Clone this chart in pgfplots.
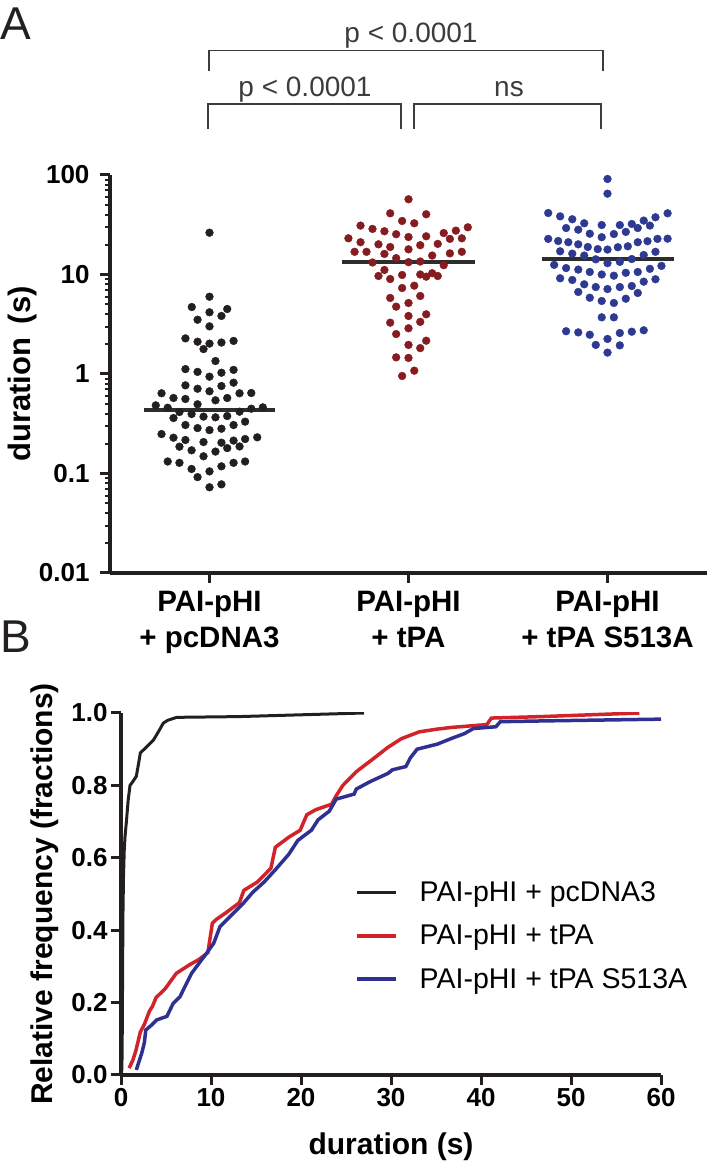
\documentclass[border=0pt]{standalone}
\usepackage{fontspec}
\setmainfont{Liberation Sans}
\usepackage{pgfplots}
\pgfplotsset{compat=1.18}
\definecolor{axisc}{RGB}{35,31,32}
\definecolor{dotblack}{RGB}{35,31,32}
\definecolor{dotred}{RGB}{135,28,32}
\definecolor{dotblue}{RGB}{46,58,145}
\definecolor{meanc}{RGB}{45,45,45}
\definecolor{brk}{RGB}{60,60,60}
\definecolor{linered}{RGB}{210,35,42}
\definecolor{lineblue}{RGB}{46,49,146}
\begin{document}
\begin{tikzpicture}[x=1pt,y=1pt]
\useasboundingbox (0,0) rectangle (709,1161);
% ---------------- Panel A ----------------
\begin{axis}[
  at={(110pt,588pt)}, anchor=south west,
  scale only axis, width=597pt, height=398pt,
  xmin=-0.5, xmax=2.5, ymode=log, ymin=0.01, ymax=100,
  axis x line=bottom, axis y line=left,
  axis line style={-, line width=3.5pt, draw=axisc},
  tick align=outside,
  major tick length=10pt, minor tick length=5pt,
  every tick/.style={axisc, line width=3pt},
  minor tick style={line width=2pt},
  xtick={0,1,2},
  xticklabels={{PAI-pHI\\+ pcDNA3},{PAI-pHI\\+ tPA},{PAI-pHI\\+ tPA S513A}},
  xticklabel style={align=center, font=\fontsize{29.5}{36}\selectfont\bfseries, yshift=-5pt},
  ytick={0.01,0.1,1,10,100},
  yticklabels={0.01,0.1,1,10,100},
  minor ytick={0.02,0.03,0.04,0.05,0.06,0.07,0.08,0.09,0.2,0.3,0.4,0.5,0.6,0.7,0.8,0.9,2,3,4,5,6,7,8,9,20,30,40,50,60,70,80,90},
  yticklabel style={font=\fontsize{26}{30}\selectfont\bfseries, xshift=-7pt},
  ylabel={duration \,(s)},
  ylabel style={font=\fontsize{31}{36}\selectfont\bfseries, at={(axis description cs:-0.146,0.5)}, anchor=center},
]
\addplot[only marks, mark=*, mark size=3.9pt, color=dotblack, mark options={fill=dotblack, draw=none}] table {
x y
0 26.3
0 5.98
-0.089 4.71
0.089 4.50
0 4.17
-0.060 3.51
0.060 3.83
0 3.01
-0.121 2.28
-0.060 2.11
0 2.02
0.060 2.07
0.121 2.15
-0.030 1.78
0.030 1.35
-0.121 1.12
-0.060 1.05
0 0.94
0.060 1.03
0.121 1.10
-0.121 0.769
-0.060 0.711
0 0.670
0.060 0.757
0.121 0.818
-0.241 0.640
-0.181 0.574
-0.121 0.561
0.030 0.544
0.089 0.574
0.151 0.640
0.210 0.644
-0.270 0.484
-0.210 0.458
-0.060 0.496
0.210 0.448
0.268 0.462
-0.151 0.415
-0.090 0.396
-0.030 0.373
0.030 0.367
0.089 0.378
0.151 0.418
-0.181 0.361
0.179 0.332
-0.121 0.307
-0.060 0.286
0 0.273
0.060 0.282
0.121 0.307
-0.241 0.249
-0.181 0.229
-0.121 0.217
-0.030 0.207
0.060 0.204
0.121 0.214
0.179 0.222
0.240 0.231
-0.151 0.186
-0.090 0.171
0.030 0.166
0.089 0.180
0.151 0.187
-0.030 0.149
-0.210 0.132
-0.151 0.128
-0.090 0.111
0 0.105
0.060 0.118
0.121 0.128
0.179 0.132
-0.060 0.092
0 0.0727
0.060 0.0778
};
\addplot[only marks, mark=*, mark size=3.9pt, color=dotred, mark options={fill=dotred, draw=none}] table {
x y
1 57.0
0.908 41.2
1.089 40.3
0.968 34.5
1.029 32.7
0.759 31.0
0.819 28.7
0.879 27.2
0.938 25.4
1 23.8
1.089 24.2
1.177 26.1
1.238 27.6
1.298 29.8
0.698 23.1
0.759 21.1
0.849 20.1
0.908 18.9
1 17.9
1.059 19.7
1.147 20.3
1.208 22.8
1.268 23.1
0.729 16.9
0.789 16.9
0.879 16.1
0.938 14.6
1.119 15.5
1.208 16.3
1.268 16.9
0.819 13.2
1 13.3
1.059 13.5
1.177 12.4
0.879 11.1
0.849 9.66
0.908 9.01
0.968 9.89
1.059 10.0
1.089 9.51
1.119 10.3
1.147 9.66
0.968 7.31
1.029 7.72
0.908 5.81
1.059 6.08
0.938 4.75
1 5.17
1 3.83
1.089 3.98
0.908 3.28
1.059 3.34
1 2.88
0.938 2.52
1 1.96
1.089 2.16
1.059 1.82
0.938 1.47
1 1.45
1.029 1.08
0.968 0.955
};
\addplot[only marks, mark=*, mark size=3.9pt, color=dotblue, mark options={fill=dotblue, draw=none}] table {
x y
2 91.2
2 64.9
1.702 41.5
1.762 38.4
1.823 35.9
1.883 32.7
1.971 31.4
2.062 31.4
2.122 32.2
2.182 34.8
2.241 37.6
2.302 41.2
1.792 29.3
1.853 28.2
2.152 29.3
2.213 31.0
1.911 25.7
2.032 25.5
2.092 26.8
1.971 23.7
1.702 22.8
1.752 21.7
1.803 21.1
1.853 20.1
1.901 18.9
1.951 18.0
2 17.8
2.052 18.8
2.102 19.2
2.152 21.1
2.201 21.6
2.251 22.8
2.302 22.9
1.762 17.1
1.823 16.2
1.883 15.5
2.182 15.7
2.241 16.9
1.941 14.2
2 13.0
2.062 13.4
2.122 14.3
1.732 12.5
1.792 11.6
1.853 11.2
1.911 10.6
1.971 10.0
2.032 9.73
2.092 10.4
2.152 10.6
2.213 11.4
2.271 12.2
1.762 9.16
1.823 8.81
1.883 7.97
1.941 7.48
2 7.14
2.062 7.48
2.122 7.66
2.182 8.47
2.241 8.96
1.853 6.67
1.911 5.84
1.971 5.42
2.032 5.17
2.092 5.71
2.152 6.52
1.971 3.71
2.032 3.71
1.792 2.69
1.853 2.62
1.911 2.48
2.062 2.58
2.122 2.66
2.182 2.75
2 2.25
1.941 1.96
2.062 1.94
2 1.64
};
\addplot[meanc, line width=4pt] coordinates {(-0.33,0.435) (0.33,0.435)};
\addplot[meanc, line width=4pt] coordinates {(0.667,13.4) (1.332,13.4)};
\addplot[meanc, line width=4pt] coordinates {(1.67,14.2) (2.333,14.2)};
\end{axis}
% significance brackets
\draw[brk, line width=1.5pt] (209,1090.3) -- (209,1110.3) -- (603,1110.3) -- (603,1090.3);
\draw[brk, line width=1.5pt] (208,1032) -- (208,1057) -- (401,1057) -- (401,1032);
\draw[brk, line width=1.5pt] (414,1032) -- (414,1057) -- (601,1057) -- (601,1032);
\node[anchor=base, inner sep=0pt, font=\fontsize{28}{32}\selectfont, text=brk] at (411,1118) {p < 0.0001};
\node[anchor=base, inner sep=0pt, font=\fontsize{28}{32}\selectfont, text=brk] at (305,1064) {p < 0.0001};
\node[anchor=base, inner sep=0pt, font=\fontsize{28}{32}\selectfont, text=brk] at (509,1064) {ns};
\node[anchor=base west, inner sep=0pt, font=\fontsize{46}{50}\selectfont, text=axisc] at (0,1121) {A};
\node[anchor=base west, inner sep=0pt, font=\fontsize{46}{50}\selectfont, text=axisc] at (0,508) {B};
% ---------------- Panel B ----------------
\begin{axis}[
  at={(121pt,86pt)}, anchor=south west,
  scale only axis, width=540pt, height=362pt,
  xmin=0, xmax=60, ymin=0, ymax=1,
  axis x line=bottom, axis y line=left,
  axis line style={-, line width=3.5pt, draw=axisc},
  tick align=outside, major tick length=10pt,
  every tick/.style={axisc, line width=3pt},
  xtick={0,10,20,30,40,50,60},
  xticklabels={0,10,20,30,40,50,60},
  ytick={0,0.2,0.4,0.6,0.8,1},
  yticklabels={0.0,0.2,0.4,0.6,0.8,1.0},
  ticklabel style={font=\fontsize{26}{30}\selectfont\bfseries},
  xlabel={duration (s)},
  xlabel style={font=\fontsize{30}{36}\selectfont\bfseries, at={(axis description cs:0.5,-0.198)}, anchor=center},
  ylabel={Relative frequency (fractions)},
  ylabel style={font=\fontsize{30}{34}\selectfont\bfseries, at={(axis description cs:-0.141,0.5)}, anchor=center},
  legend style={at={(axis cs:26.0,0.534)}, anchor=north west, draw=none, fill=none,
    font=\fontsize{28.5}{32}\selectfont, row sep=22pt, inner sep=0pt,
    nodes={inner sep=0pt}, column sep=22pt},
  legend image code/.code={\draw[#1] (0pt,0pt) -- (39pt,0pt);},
  legend cell align=left,
]
\addplot[axisc, line width=3pt] coordinates {
(0.07,0) (0.12,0.05) (0.15,0.15) (0.18,0.3) (0.22,0.45) (0.28,0.55) (0.36,0.62) (0.45,0.66) (0.6,0.70) (0.8,0.76) (1.0,0.80) (1.3,0.81) (1.7,0.825) (1.95,0.86) (2.15,0.89) (2.8,0.905) (3.6,0.925) (4.2,0.95) (4.7,0.972) (5.2,0.98) (6.2,0.988) (13,0.99) (20,0.995) (27,1.0)};
\addlegendentry{PAI-pHI + pcDNA3}
\addplot[linered, line width=3.5pt] coordinates {
(0.9,0.019) (1.3,0.04) (1.65,0.067) (2.15,0.119) (2.6,0.14) (3.15,0.176) (3.5,0.19) (3.9,0.214) (4.9,0.238) (6.15,0.281) (7.65,0.305) (8.65,0.319) (9.65,0.338) (10.15,0.419) (10.6,0.43) (11.65,0.448) (13.15,0.476) (13.65,0.51) (15.15,0.533) (16.65,0.571) (17.15,0.629) (18.65,0.657) (19.9,0.676) (20.65,0.719) (21.65,0.733) (23.4,0.748) (23.9,0.771) (24.65,0.8) (26.15,0.838) (27.15,0.857) (27.9,0.871) (29.65,0.905) (31.15,0.929) (33.15,0.948) (35,0.955) (36.65,0.96) (40.65,0.968) (41.15,0.986) (46.65,0.99) (57.6,1.0)};
\addlegendentry{PAI-pHI + tPA}
\addplot[lineblue, line width=3.5pt] coordinates {
(1.7,0.014) (2.3,0.06) (2.6,0.09) (2.75,0.124) (3.4,0.138) (3.95,0.152) (5.1,0.162) (5.8,0.198) (6.55,0.216) (7.1,0.244) (7.85,0.281) (8.8,0.313) (9.5,0.336) (10.3,0.364) (11,0.41) (12.1,0.437) (13.65,0.476) (14.65,0.505) (15.9,0.533) (17.15,0.567) (18.65,0.61) (19.65,0.648) (21.15,0.676) (21.9,0.705) (23.15,0.729) (23.9,0.762) (25.9,0.776) (26.15,0.79) (27.65,0.81) (29.65,0.833) (30.15,0.843) (31.65,0.852) (32.15,0.876) (32.9,0.9) (35.15,0.914) (36.65,0.929) (38.15,0.943) (39.15,0.957) (41.65,0.962) (42.15,0.976) (46.65,0.978) (60,0.983)};
\addlegendentry{PAI-pHI + tPA S513A}
\end{axis}
\end{tikzpicture}
\end{document}
